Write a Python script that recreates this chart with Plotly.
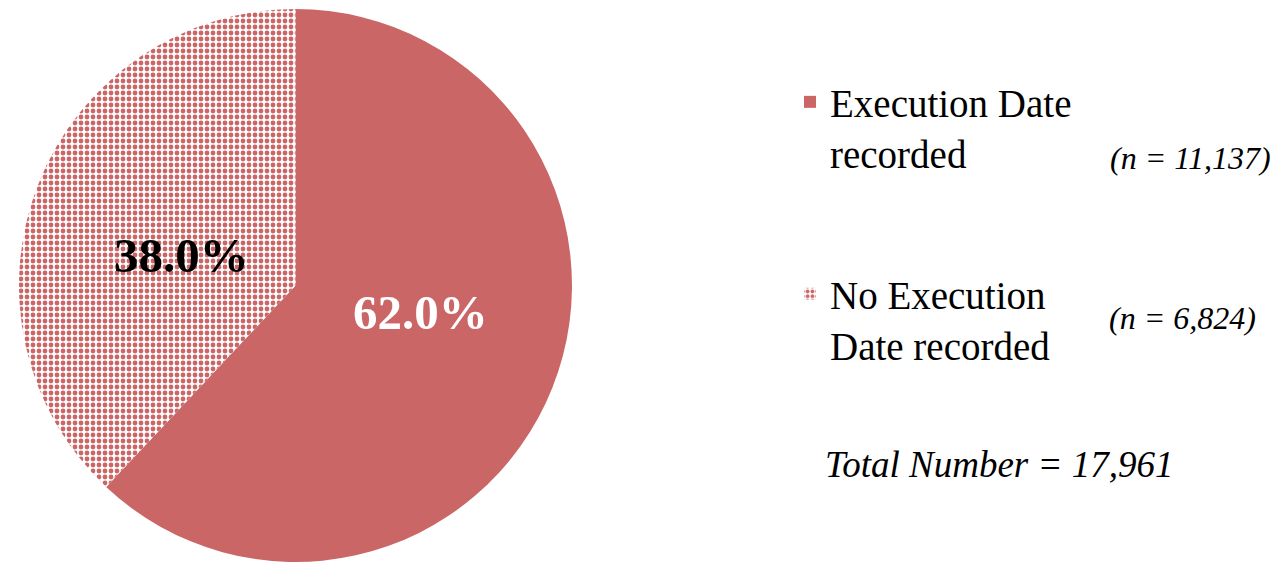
import plotly.graph_objects as go

W, H = 1287, 562

labels = ["Execution Date<br>recorded", "No Execution<br>Date recorded"]
values = [11137, 6824]
n_text = ["(n = 11,137)", "(n = 6,824)"]
total_text = "Total Number = 17,961"

red = "#CB6667"
total = sum(values)
pct_text = [f"{v / total * 100:.1f}%" for v in values]
shapes_ = ["", "."]
colors_ = [red, "white"]


def pat(s):
    return dict(shape=s, fgcolor=red, bgcolor="white", fgopacity=1, size=6,
                solidity=0.5, fillmode="overlay")


fig = go.Figure()
fig.add_trace(go.Pie(
    labels=labels,
    values=values,
    textinfo="none",
    sort=False,
    direction="clockwise",
    rotation=0,
    showlegend=False,
    marker=dict(
        colors=colors_,
        line=dict(width=0),
        pattern=dict(shape=shapes_, fgcolor=red, bgcolor="white", fgopacity=1,
                     size=6, solidity=0.5, fillmode="overlay"),
    ),
    domain=dict(x=[19 / W, 572 / W], y=[0, 1 - 9 / H]),
    hoverinfo="skip",
))

# legend entries (one per slice, each in its own legend box)
for i, (lab, col, shp) in enumerate(zip(labels, colors_, shapes_)):
    fig.add_trace(go.Bar(
        x=[None], y=[None], name=lab,
        marker=dict(color=col, line=dict(width=0), pattern=pat(shp)),
        legend="legend" if i == 0 else "legend2",
        showlegend=True, hoverinfo="skip",
    ))

annos = [
    dict(text="<b>" + pct_text[0] + "</b>", x=420 / W, y=1 - 312 / H,
         xanchor="center", yanchor="middle",
         font=dict(size=49, color="white")),
    dict(text="<b>" + pct_text[1] + "</b>", x=181 / W, y=1 - 255 / H,
         xanchor="center", yanchor="middle",
         font=dict(size=49, color="black")),
    dict(text="<i>" + n_text[0] + "</i>", x=1273 / W, y=1 - 158 / H,
         xanchor="right", yanchor="middle", font=dict(size=32, color="black")),
    dict(text="<i>" + n_text[1] + "</i>", x=1258 / W, y=1 - 318 / H,
         xanchor="right", yanchor="middle", font=dict(size=32, color="black")),
    dict(text="<i>" + total_text + "</i>", x=999 / W, y=1 - 464 / H,
         xanchor="center", yanchor="middle", font=dict(size=37, color="black")),
]
for a in annos:
    a.update(xref="paper", yref="paper", showarrow=False)
    a["font"].update(family="Liberation Serif")

leg_font = dict(family="Liberation Serif", size=39, color="black")
fig.update_layout(
    width=W, height=H,
    margin=dict(l=0, r=0, t=0, b=0),
    paper_bgcolor="white",
    plot_bgcolor="white",
    showlegend=True,
    xaxis=dict(visible=False),
    yaxis=dict(visible=False),
    legend=dict(x=790 / W, y=1 - 70 / H, xanchor="left", yanchor="top",
                valign="top", font=leg_font, bgcolor="rgba(0,0,0,0)"),
    legend2=dict(x=790 / W, y=1 - 262 / H, xanchor="left", yanchor="top",
                 valign="top", font=leg_font, bgcolor="rgba(0,0,0,0)"),
    annotations=annos,
)

fig.write_html("out.html", config=dict(displayModeBar=False),
               post_script="document.body.style.margin='0';")
